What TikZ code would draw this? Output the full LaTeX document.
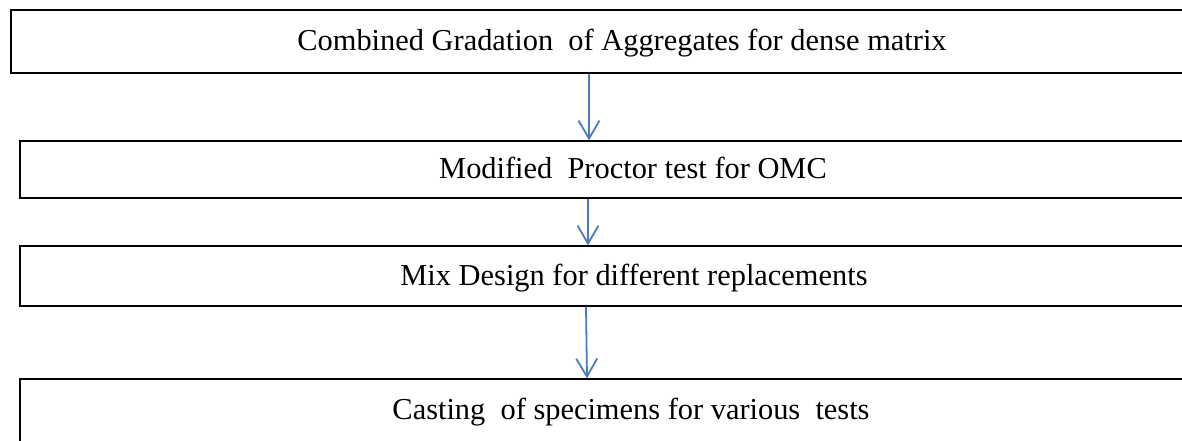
\documentclass[tikz,border=0pt]{standalone}
\usepackage{fontspec}
\setmainfont{Liberation Serif}
\usetikzlibrary{arrows.meta}
\definecolor{arrowblue}{HTML}{4A7EBB}
\begin{document}
\begin{tikzpicture}[x=1pt,y=-1pt,
  box/.style={draw=black, line width=1.3pt, rectangle, inner sep=0pt,
    font=\fontsize{30.4}{36}\selectfont, text height=18pt, text depth=0pt},
  flow/.style={draw=arrowblue, line width=1.8pt,
    -{Straight Barb[length=18pt,width=21pt,line width=1.8pt]}}]
\path[use as bounding box, clip] (0,0) rectangle (1182,440);
\node[box, minimum width=1222pt, minimum height=63pt] (b1) at (622,41.5)
  {Combined Gradation\ \ of Aggregates for dense matrix};
\node[box, minimum width=1226pt, minimum height=57pt] (b2) at (633,169.5)
  {Modified\ \ Proctor test for OMC};
\node[box, minimum width=1228pt, minimum height=60pt] (b3) at (634,276)
  {Mix Design for different replacements};
\node[box, minimum width=1222pt, minimum height=66pt, text height=14pt] (b4) at (631,412)
  {Casting\ \ of specimens for various\ \ tests};
\draw[flow] ([xshift=-33pt]b1.south) -- ([xshift=-44pt]b2.north);
\draw[flow] ([xshift=-45pt]b2.south) -- ([xshift=-46pt]b3.north);
\draw[flow] ([xshift=-48pt]b3.south) -- ([xshift=-44pt]b4.north);
\end{tikzpicture}
\end{document}
